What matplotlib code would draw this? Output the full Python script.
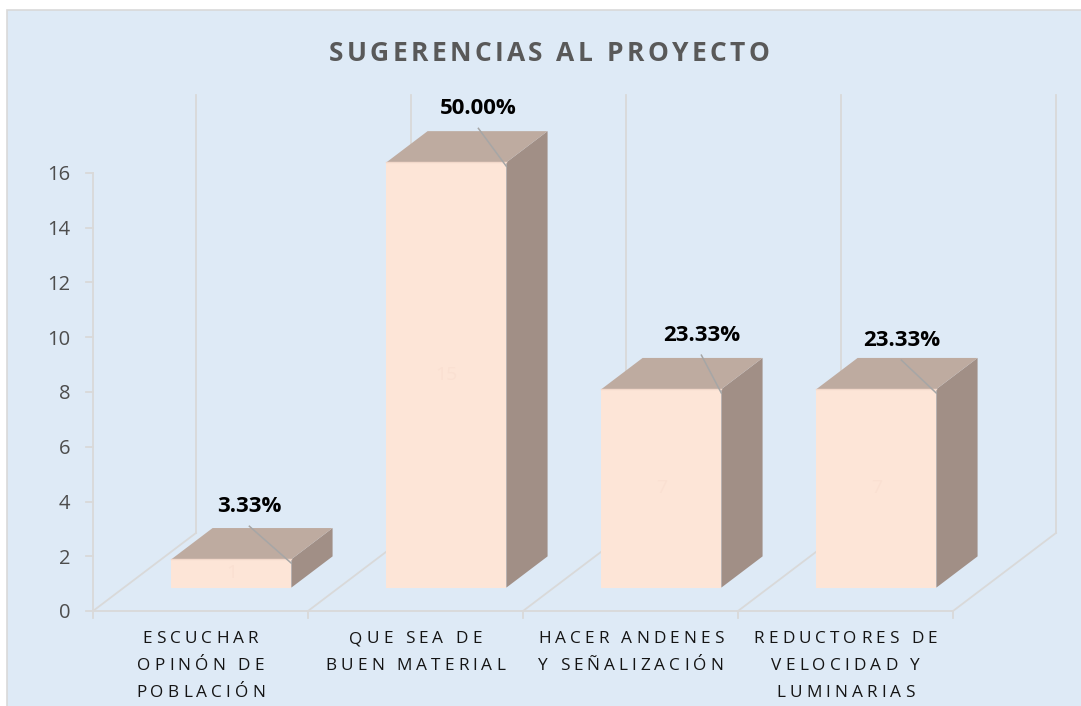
import matplotlib
matplotlib.use('Agg')
import matplotlib.pyplot as plt
from matplotlib import font_manager, ft2font
from matplotlib.font_manager import FontProperties
from matplotlib.patches import Polygon, Rectangle
from matplotlib.transforms import offset_copy

# datos de la encuesta
title = 'SUGERENCIAS AL PROYECTO'
categories = [
    ['ESCUCHAR', 'OPINÓN DE', 'POBLACIÓN'],
    ['QUE SEA DE', 'BUEN MATERIAL'],
    ['HACER ANDENES', 'Y SEÑALIZACIÓN'],
    ['REDUCTORES DE', 'VELOCIDAD Y', 'LUMINARIAS'],
]
counts = [1, 15, 7, 7]
y_ticks = [0, 2, 4, 6, 8, 10, 12, 14, 16]

total = sum(counts)
percent_labels = ['{:.2f}%'.format(c / total * 100) for c in counts]

# estilo
BG = '#DEEAF6'
GRID = '#D9D9D9'
FRONT = '#FDE5D7'
TOP = '#BEABA0'
SIDE = '#A18F86'
FONT = 'Open Sans'

# proyección oblicua: profundidad z en [0, 1]
DX, DY = 0.479, 2.85
BAR_W = 0.558
Z0, Z1 = 0.3, 0.7
BAR_SCALE = 1.0356
PX_X, PX_Y = 215.0, 27.375   # pixeles por unidad de datos


def P(x, y, z):
    return (x + DX * z, y + DY * z)


fig = plt.figure(figsize=(10.81, 7.06), dpi=100)
ax = fig.add_axes([0, 0, 1, 1])
ax.set_xlim(-93 / PX_X, (1081 - 93) / PX_X)
ax.set_ylim((611 - 706) / PX_Y, 611 / PX_Y)
ax.axis('off')
ax.patch.set_visible(False)

# fondo del área del gráfico
fig.add_artist(Rectangle((7 / 1081, -0.01), 1.02, 1.01 - 10 / 706,
                         transform=fig.transFigure, facecolor=BG,
                         edgecolor=GRID, lw=1.2, zorder=-1))


def spaced_text(x, y, s, size, tracking, weight='normal', color='k'):
    """Texto centrado en x con espaciado extra entre letras (en px)."""
    fp = FontProperties(family=FONT, weight=weight, size=size)
    font = ft2font.FT2Font(font_manager.findfont(fp))
    font.set_size(size, fig.dpi)
    adv = [font.load_char(ord(c)).linearHoriAdvance / 65536 for c in s]
    width = sum(adv) + tracking * (len(s) - 1)
    pos = -width / 2
    for c, a in zip(s, adv):
        if c != ' ':
            tr = offset_copy(ax.transData, fig=fig, x=pos, y=0, units='dots')
            ax.text(x, y, c, transform=tr, fontproperties=fp, color=color,
                    ha='left', va='baseline')
        pos += a + tracking


n = len(counts)
lw = 1.3

# paredes: líneas verticales en el fondo y eje vertical
for i in range(n + 1):
    x0, y0 = P(i, 0, 1)
    ax.plot([x0, x0], [y0, y0 + y_ticks[-1]], color=GRID, lw=lw, zorder=1)
ax.plot([0, 0], [0, y_ticks[-1]], color=GRID, lw=lw, zorder=1)

# piso
ax.plot([0, n], [0, 0], color=GRID, lw=lw, zorder=1)
for i in range(n + 1):
    x1, y1 = P(i, 0, 1)
    ax.plot([i, x1], [0, y1], color=GRID, lw=lw, zorder=1)
    ax.plot([i, i], [0, -7 / PX_Y], color=GRID, lw=lw, zorder=1)

# marcas y etiquetas del eje vertical
for t in y_ticks:
    ax.plot([-7 / PX_X, 0], [t, t], color=GRID, lw=lw, zorder=1)
    ax.text(-23 / PX_X, t, str(t), ha='right', va='center_baseline',
            fontsize=14.5, family=FONT, color='#4D4D4D')

# columnas 3D
label_dx = [-42, -28, -20, -35]
label_dy = [53, 54, 54, 49]
for i, c in enumerate(counts):
    xl = i + (1 - BAR_W) / 2
    xr = xl + BAR_W
    h = c * BAR_SCALE
    front = [P(xl, 0, Z0), P(xr, 0, Z0), P(xr, h, Z0), P(xl, h, Z0)]
    top = [P(xl, h, Z0), P(xr, h, Z0), P(xr, h, Z1), P(xl, h, Z1)]
    side = [P(xr, 0, Z0), P(xr, 0, Z1), P(xr, h, Z1), P(xr, h, Z0)]
    ax.add_patch(Polygon(side, closed=True, facecolor=SIDE, edgecolor='none', zorder=2))
    ax.add_patch(Polygon(top, closed=True, facecolor=TOP, edgecolor='none', zorder=2))
    ax.add_patch(Polygon(front, closed=True, facecolor=FRONT, edgecolor='none', zorder=3))
    ax.plot([front[3][0], front[2][0]], [front[3][1], front[2][1]],
            color='#F2D8CA', lw=1, zorder=3)

    # valor apenas visible sobre la cara frontal
    cx, cy = P((xl + xr) / 2, h / 2, Z0)
    ax.text(cx, cy, str(c), ha='center', va='center', fontsize=14,
            family=FONT, color='#FAE0D2', zorder=4)

    # etiqueta de porcentaje con línea guía
    ex, ey = P(xr, h, Z0)
    tr = offset_copy(ax.transData, fig=fig, x=label_dx[i], y=label_dy[i], units='dots')
    ax.text(ex, ey, percent_labels[i], transform=tr, ha='center', va='center',
            fontsize=16, fontweight='bold', family=FONT, color='black', zorder=5)
    lx = ex + label_dx[i] / PX_X
    ly = ey + (label_dy[i] - 20) / PX_Y
    ax.plot([lx, ex], [ly, ey - 4 / PX_Y], color='#A6A6A6', lw=1.1, zorder=5)

# etiquetas de categorías
for i, lines in enumerate(categories):
    for k, line in enumerate(lines):
        y = (611 - 643 - 27 * k) / PX_Y
        spaced_text(i + 0.5, y, line, 12.4, 4.0, color='#141414')

# título
spaced_text((549 - 93) / PX_X, (611 - 61) / PX_Y, title, 19, 3.4,
            weight='bold', color='#595959')

fig.savefig('out.png', dpi=100)
